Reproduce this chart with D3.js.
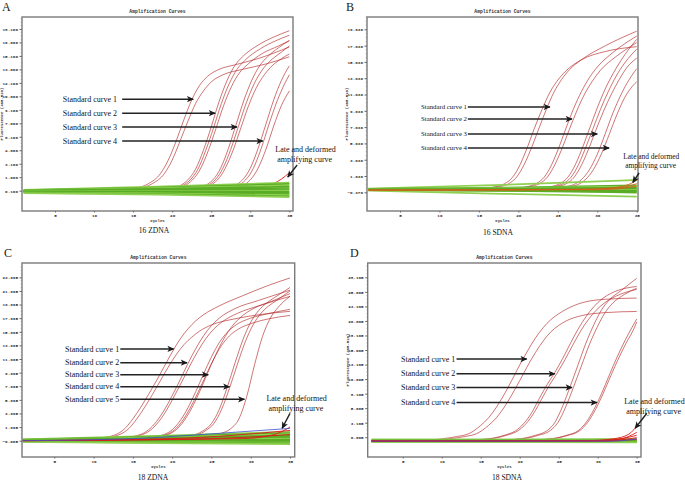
<!DOCTYPE html>
<html><head><meta charset="utf-8">
<script src="https://cdn.jsdelivr.net/npm/d3@7"></script>
<style>body{margin:0;background:#fff}svg{display:block}</style>
</head><body><svg id="c" width="685" height="482"></svg>
<script>
// ---------------- DATA ----------------
const xTicks = [5,10,15,20,25,30,35];
const yTicksA = [0.1,1.6,3.1,4.6,6.1,7.6,9.1,10.6,12.1,13.6,15.1,16.6,18.1];
const yTicksB = [-0.37,1.63,3.63,5.63,7.63,9.63,11.63,13.63,15.63,17.63,19.63];
const yTicksC = [-0.005,1.995,3.995,5.995,7.995,9.995,11.995,13.995,15.995,17.995,19.995,21.995,23.995];
const yTicksD = [0.665,3.165,5.665,8.165,10.665,13.165,15.665,18.165,20.665,23.165,25.665,28.165];
const greenCycles = [1,18,35];

const curvesA = [
 [[1,0.1],[12,0.15],[15,0.35],[17,0.9],[18.5,2.0],[19.5,3.5],[20.5,5.6],[21.5,8.0],[22.5,10.2],[23.5,11.8],[24.5,12.8],[26,13.6],[28,14.1],[31,14.8],[35,16.1]],
 [[1,0.1],[12,0.15],[15.5,0.35],[17.5,0.9],[19,2.0],[20,3.5],[21,5.6],[22,7.8],[23,9.8],[24,11.2],[25,12.2],[26.5,13.0],[29,13.6],[32,14.2],[35,15.0]],
 [[1,0.1],[17,0.2],[20,0.4],[22,1.3],[23,2.5],[24,4.6],[25,7.2],[26,10.0],[27,12.3],[28,14.0],[29,15.0],[31,16.3],[33,17.2],[35,17.9]],
 [[1,0.1],[17,0.2],[20.3,0.4],[22.3,1.3],[23.3,2.5],[24.3,4.6],[25.3,7.1],[26.3,9.8],[27.3,12.0],[28.3,13.6],[29.3,14.6],[31.3,15.9],[33.3,16.8],[35,17.4]],
 [[1,0.1],[17,0.2],[20.6,0.4],[22.6,1.3],[23.6,2.5],[24.6,4.5],[25.6,7.0],[26.6,9.6],[27.6,11.7],[28.6,13.2],[29.6,14.1],[31.6,15.4],[33.6,16.2],[35,16.8]],
 [[1,0.1],[20,0.2],[23.2,0.4],[25.2,1.3],[26.2,2.6],[27.2,4.8],[28.2,7.5],[29.2,10.2],[30.2,12.4],[31.2,14.0],[32.2,15.0],[33.6,16.0],[35,16.8]],
 [[1,0.1],[20,0.2],[23.5,0.4],[25.5,1.3],[26.5,2.6],[27.5,4.7],[28.5,7.3],[29.5,9.9],[30.5,12.0],[31.5,13.5],[32.5,14.5],[33.8,15.4],[35,16.2]],
 [[1,0.1],[20,0.2],[23.8,0.4],[25.8,1.3],[26.8,2.6],[27.8,4.6],[28.8,7.1],[29.8,9.6],[30.8,11.6],[31.8,13.0],[32.8,14.0],[34,14.8],[35,15.3]],
 [[1,0.1],[24,0.2],[27,0.4],[29,1.3],[30,2.6],[31,4.8],[32,7.5],[33,10.2],[34,12.4],[35,14.0]],
 [[1,0.1],[24,0.2],[27.4,0.4],[29.4,1.3],[30.4,2.6],[31.4,4.8],[32.4,7.5],[33.4,10.0],[34.4,12.0],[35,13.0]],
 [[1,0.1],[24,0.2],[28,0.4],[30,1.3],[31,2.6],[32,4.7],[33,7.3],[34,9.6],[35,11.2]]
];
const lateA = [
 [[1,0.1],[28,0.2],[31,0.4],[33,0.9],[34,1.4],[35,2.1]]
];
const greenA = [
 [0.20,0.55,1.00],[0.17,0.45,0.85],[0.14,0.38,0.70],[0.11,0.30,0.55],[0.08,0.22,0.40],
 [0.05,0.15,0.25],[0.02,0.08,0.10],[0.00,0.02,-0.02],[-0.03,-0.05,-0.15],[-0.06,-0.12,-0.28],
 [-0.10,-0.20,-0.40],[-0.14,-0.27,-0.52],[-0.18,-0.33,-0.62]
];

const curvesB = [
 [[1,-0.1],[14,0.0],[17,0.3],[19,1.2],[20,2.6],[21,4.8],[22,7.4],[23,9.8],[24,11.9],[25,13.4],[26,14.5],[28,15.9],[31,16.9],[35,17.5]],
 [[1,-0.1],[14,0.0],[17.5,0.3],[19.5,1.2],[20.5,2.6],[21.5,4.7],[22.5,7.2],[23.5,9.7],[24.5,11.9],[25.5,13.5],[26.5,14.7],[28,15.9],[31,17.6],[35,19.4]],
 [[1,-0.1],[18,0.0],[21,0.3],[23,1.2],[24,2.6],[25,4.8],[26,7.4],[27,9.9],[28,12.0],[29,13.7],[30,15.0],[32,16.8],[35,18.8]],
 [[1,-0.1],[18,0.0],[21.4,0.3],[23.4,1.2],[24.4,2.6],[25.4,4.7],[26.4,7.2],[27.4,9.6],[28.4,11.7],[29.4,13.3],[30.4,14.6],[32.4,16.3],[35,18.0]],
 [[1,-0.1],[21,0.0],[24,0.3],[26,1.2],[27,2.6],[28,4.8],[29,7.4],[30,10.0],[31,12.3],[32,14.2],[33,15.8],[34,17.2],[35,18.4]],
 [[1,-0.1],[21,0.0],[24.4,0.3],[26.4,1.2],[27.4,2.6],[28.4,4.8],[29.4,7.3],[30.4,9.8],[31.4,12.0],[32.4,13.9],[33.4,15.4],[34.4,16.6],[35,17.2]],
 [[1,-0.1],[21,0.0],[24.8,0.3],[26.8,1.2],[27.8,2.6],[28.8,4.7],[29.8,7.2],[30.8,9.6],[31.8,11.7],[32.8,13.5],[33.8,15.0],[35,16.1]],
 [[1,-0.1],[23,0.0],[26,0.3],[28,1.2],[29,2.4],[30,4.3],[31,6.8],[32,9.4],[33,11.6],[34,13.4],[35,14.8]],
 [[1,-0.1],[23,0.0],[26.5,0.3],[28.5,1.2],[29.5,2.4],[30.5,4.3],[31.5,6.7],[32.5,9.2],[33.5,11.3],[34.5,12.7],[35,13.2]]
];
const lateB = [
 [[1,-0.1],[28,0.0],[32,0.2],[34,0.6],[35,1.1]],
 [[1,-0.1],[29,0.0],[33,0.2],[35,0.7]],
 [[1,-0.1],[30,-0.05],[33,0.1],[35,0.4]]
];
const greenB = [
 [0.10,0.55,1.15],[0.06,0.20,0.50],[0.04,0.13,0.35],[0.02,0.07,0.22],[0.00,0.02,0.10],
 [-0.02,-0.03,0.00],[-0.04,-0.07,-0.10],[-0.06,-0.11,-0.20],[-0.08,-0.15,-0.30],[-0.10,-0.19,-0.40],
 [-0.15,-0.55,-0.90]
];

const curvesC = [
 [[1,0.1],[9,0.2],[12,0.6],[14,1.8],[15,3.2],[16,4.9],[17,6.8],[18,8.8],[19,10.9],[20,13.0],[21,14.9],[22,16.4],[23,17.6],[24,18.5],[26,19.8],[29,21.3],[32,22.7],[35,23.9]],
 [[1,0.1],[10,0.2],[12.5,0.6],[14.5,1.8],[15.5,3.2],[16.5,4.9],[17.5,6.8],[18.5,8.8],[19.5,10.8],[20.5,12.6],[21.5,14.1],[22.5,15.2],[23.5,16.1],[25,17.0],[28,17.9],[31,18.5],[35,19.0]],
 [[1,0.1],[12,0.2],[15,0.6],[17,1.6],[18,2.8],[19,4.5],[20,6.6],[21,8.9],[22,11.3],[23,13.5],[24,15.4],[25,16.9],[26,18.0],[28,19.4],[31,20.6],[35,22.1]],
 [[1,0.1],[12,0.2],[15.3,0.6],[17.3,1.6],[18.3,2.8],[19.3,4.5],[20.3,6.6],[21.3,8.8],[22.3,11.1],[23.3,13.2],[24.3,15.0],[25.3,16.4],[26.3,17.4],[28.3,18.7],[31,19.8],[35,21.2]],
 [[1,0.1],[15,0.2],[18,0.6],[20,1.6],[21,2.9],[22,4.8],[23,7.2],[24,9.8],[25,12.3],[26,14.4],[27,15.9],[28,16.9],[30,18.0],[32,18.6],[35,19.3]],
 [[1,0.1],[15,0.2],[18.3,0.6],[20.3,1.6],[21.3,2.9],[22.3,4.8],[23.3,7.1],[24.3,9.6],[25.3,12.0],[26.3,14.0],[27.3,15.4],[28.3,16.3],[30.3,17.3],[32.3,17.9],[35,18.4]],
 [[1,0.1],[15.5,0.2],[18.5,0.6],[20.5,1.6],[21.5,2.9],[22.5,4.8],[23.5,7.2],[24.5,9.9],[25.5,12.5],[26.5,14.8],[27.5,16.6],[28.5,17.9],[30.5,19.5],[32.5,20.4],[35,21.6]],
 [[1,0.1],[19,0.2],[22,0.6],[24,1.5],[25,2.5],[26,4.6],[27,7.8],[28,11.4],[29,14.8],[30,17.4],[31,19.1],[32,20.2],[33,21.0],[35,22.5]],
 [[1,0.1],[19,0.2],[22.3,0.6],[24.3,1.5],[25.3,2.5],[26.3,4.6],[27.3,7.7],[28.3,11.2],[29.3,14.5],[30.3,17.0],[31.3,18.7],[32.3,19.8],[33.3,20.6],[35,22.0]],
 [[1,0.1],[20,0.2],[24,0.5],[26,1.0],[27.5,1.8],[28.5,3.2],[29.5,6.5],[30.5,11.2],[31.5,15.3],[32.5,18.0],[33.5,19.6],[35,21.2]]
];
const lateC = [
 [[1,0.0],[20,0.3],[35,1.5]],
 [[1,0.0],[25,0.3],[35,0.9]],
 [[1,0.0],[29,0.3],[33,0.9],[35,2.0]]
];
const blueC = [
 [[1,0.0],[15,0.3],[25,1.0],[35,1.8]]
];
const greenC = [
 [0.20,0.70,1.30],[0.17,0.58,1.12],[0.14,0.47,0.95],[0.11,0.37,0.78],[0.08,0.27,0.62],
 [0.05,0.18,0.46],[0.02,0.09,0.30],[-0.01,0.00,0.15],[-0.04,-0.08,0.00],[-0.08,-0.16,-0.14],
 [-0.12,-0.23,-0.28],[-0.16,-0.30,-0.40],[-0.20,-0.35,-0.50]
];

const curvesD = [
 [[1,0.1],[8,0.15],[10,0.4],[12,0.8],[13.5,1.3],[15,2.7],[16,4.0],[17,5.8],[18,8.0],[19,10.5],[20,13.1],[21,15.5],[22,17.7],[23,19.5],[24,20.9],[25,21.9],[26,22.7],[28,23.8],[31,24.4],[35,24.6]],
 [[1,0.1],[9,0.15],[11,0.4],[13,0.8],[14.5,1.3],[16,2.7],[17,4.0],[18,5.8],[19,8.0],[20,10.4],[21,12.9],[22,15.2],[23,17.2],[24,18.8],[25,19.9],[26,20.7],[28,21.6],[31,22.1],[35,22.3]],
 [[1,0.1],[13,0.15],[16,0.4],[18,1.0],[19.5,1.8],[20.5,3.0],[21.5,4.8],[22.5,7.3],[23.5,9.7],[24.5,11.8],[25.5,14.2],[26.5,16.8],[27.5,19.3],[28.5,21.4],[29.5,23.1],[30.5,24.4],[32,25.6],[35,26.6]],
 [[1,0.1],[13,0.15],[16.3,0.4],[18.3,1.0],[19.8,1.8],[20.8,3.0],[21.8,4.8],[22.8,7.2],[23.8,9.6],[24.8,11.7],[25.8,14.0],[26.8,16.5],[27.8,18.9],[28.8,20.9],[29.8,22.5],[30.8,23.7],[32.3,24.9],[35,26.1]],
 [[1,0.1],[17,0.15],[20,0.4],[22,1.0],[23.5,1.8],[24.5,3.2],[25.5,6.0],[26.5,9.5],[27.5,13.2],[28.5,16.9],[29.5,20.0],[30.5,22.6],[31.5,24.3],[33,25.9],[35,28.0]],
 [[1,0.1],[17,0.15],[20.4,0.4],[22.4,1.0],[23.9,1.8],[24.9,3.2],[25.9,5.9],[26.9,9.3],[27.9,12.9],[28.9,16.5],[29.9,19.5],[30.9,22.0],[31.9,23.7],[33.4,25.2],[35,26.3]],
 [[1,0.1],[21,0.15],[24,0.4],[26,1.0],[27.5,1.8],[28.5,3.2],[29.5,5.4],[30.5,8.2],[31.5,11.4],[32.5,14.5],[33.5,17.3],[34.5,19.8],[35,21.0]],
 [[1,0.1],[21,0.15],[24.2,0.4],[26.2,1.0],[27.7,1.8],[28.7,3.2],[29.7,5.4],[30.7,8.2],[31.7,11.3],[32.7,14.3],[33.7,17.0],[34.7,19.5],[35,20.5]]
];
const lateD = [
 [[1,0.0],[29,0.1],[32,0.4],[34,1.2],[35,2.6]],
 [[1,0.0],[30,0.1],[33,0.4],[35,1.5]],
 [[1,0.0],[31,0.1],[35,1.0]],
 [[1,0.0],[31,0.05],[35,0.6]],
 [[1,0.0],[30,0.0],[35,0.3]]
];
const blueD = [
 [[1,0.0],[32,0.0],[35,0.4]]
];
const greenD = [
 [0.30,0.30,0.35],[0.22,0.22,0.25],[0.14,0.14,0.15],[0.06,0.06,0.05],
 [-0.02,-0.02,-0.05],[-0.10,-0.10,-0.12],[-0.18,-0.18,-0.20]
];

const stdLabelsA = ["Standard curve 1","Standard curve 2","Standard curve 3","Standard curve 4"];
const stdLabelsC = ["Standard curve 1","Standard curve 2","Standard curve 3","Standard curve 4","Standard curve 5"];
const lateLabel = ["Late and deformed","amplifying curve"];

// ---------------- LAYOUT ----------------
const panels = [
 {letter:"A", sub:"16 ZDNA", frame:[22,293,17,211], xDom:[0.775,35.47], yDom:[-2.16,19.43],
  yTicks:yTicksA, curves:curvesA, late:lateA, lateUnder:true, blue:[], green:greenA, yTitle:true,
  letterPos:[2,11], subPos:[154,233], fs:8,
  std:{labels:stdLabelsA, textX:6.0, arrowX:13.6, rows:[10.29,8.73,7.18,5.62], tips:[22.7,25.5,28.3,31.6]},
  lateAnn:{x:33.2, rows:[4.73,3.62], fs:8, from:[36.0,2.96], to:[34.8,1.62]}},
 {letter:"B", sub:"16 SDNA", frame:[367,638,17,211], xDom:[0.82,35.16], yDom:[-2.66,21.14],
  yTicks:yTicksB, curves:curvesB, late:lateB, lateUnder:false, blue:[], green:greenB, yTitle:true,
  letterPos:[346,11], subPos:[498,235], fs:6.8,
  std:{labels:stdLabelsA, textX:7.66, arrowX:13.6, rows:[10.10,8.62,6.78,5.07], tips:[24.0,26.8,30.0,31.5]},
  lateAnn:{x:33.3, rows:[3.96,2.9], fs:7.4, from:[35.3,2.0], to:[34.5,0.86]}},
 {letter:"C", sub:"18 ZDNA", frame:[22,294.7,263,457], xDom:[0.89,35.6], yDom:[-2.40,26.10],
  yTicks:yTicksC, curves:curvesC, late:lateC, lateUnder:false, blue:blueC, green:greenC, yTitle:false,
  letterPos:[4,257], subPos:[153,480], fs:8,
  std:{labels:stdLabelsC, textX:6.36, arrowX:13.4, rows:[13.48,11.46,9.70,7.93,6.08], tips:[20.2,21.9,24.6,27.3,29.2]},
  lateAnn:{x:32.0, rows:[6.27,4.8], fs:8, from:[35.0,4.0], to:[34.0,1.82]}},
 {letter:"D", sub:"18 SDNA", frame:[367.7,641,263,457], xDom:[0.51,35.55], yDom:[-2.73,30.63],
  yTicks:yTicksD, curves:curvesD, late:lateD, lateUnder:false, blue:blueD, green:greenD, yTitle:true,
  letterPos:[350,257], subPos:[507,480], fs:8,
  std:{labels:stdLabelsA, textX:4.78, arrowX:11.9, rows:[14.11,11.58,9.22,6.63], tips:[20.9,24.5,26.7,29.9]},
  lateAnn:{x:33.4, rows:[6.8,5.08], fs:8, from:[36.3,4.8], to:[34.8,2.22]}}
];

// ---------------- DRAW ----------------
const svg = d3.select("#c");
const defs = svg.append("defs");
defs.append("marker").attr("id","ah").attr("viewBox","0 0 10 10").attr("refX",9).attr("refY",5)
  .attr("markerWidth",9).attr("markerHeight",7).attr("markerUnits","userSpaceOnUse").attr("orient","auto")
  .append("path").attr("d","M0,0.5 L10,5 L0,9.5 L2.5,5 Z").attr("fill","#1a1a1a");

const serif = "'Liberation Serif','Times New Roman',serif";
const mono = "'Liberation Mono','DejaVu Sans Mono',monospace";

panels.forEach((p,pi) => {
  const [x0,x1,y0,y1] = p.frame;
  const x = d3.scaleLinear().domain(p.xDom).range([x0,x1]);
  const y = d3.scaleLinear().domain(p.yDom).range([y1,y0]);
  const g = svg.append("g");
  const line = d3.line().x(d=>x(d[0])).y(d=>y(d[1])).curve(d3.curveMonotoneX);

  defs.append("clipPath").attr("id","clip"+pi).append("rect")
    .attr("x",x0).attr("y",y0).attr("width",x1-x0).attr("height",y1-y0);
  const plot = g.append("g").attr("clip-path",`url(#clip${pi})`);

  const drawLate = () => {
    plot.append("g").selectAll("path").data(p.late).join("path")
      .attr("d", line).attr("fill","none")
      .attr("stroke", pi===1 ? "#d2601a" : "#e01818").attr("stroke-width",0.9);
  };

  // red amplification curves
  plot.append("g").selectAll("path").data(p.curves).join("path")
    .attr("d", line).attr("fill","none")
    .attr("stroke","#b32626").attr("stroke-width",0.8).attr("stroke-opacity",0.8);
  if (p.lateUnder) drawLate();

  // green (negative) lines
  plot.append("g").selectAll("path").data(p.green).join("path")
    .attr("d", d => line(greenCycles.map((c,i)=>[c,d[i]])))
    .attr("fill","none")
    .attr("stroke",(d,i)=> (i===0 || i===p.green.length-1 || i%4===2) ? "#8fd052" : "#5aad25")
    .attr("stroke-width",1.7);

  if (!p.lateUnder) drawLate();
  plot.append("g").selectAll("path").data(p.blue).join("path")
    .attr("d", line).attr("fill","none")
    .attr("stroke","#3b4fd0").attr("stroke-width",0.8);

  // frame
  g.append("rect").attr("x",x0).attr("y",y0).attr("width",x1-x0).attr("height",y1-y0)
    .attr("fill","none").attr("stroke","#7a7a7a").attr("stroke-width",1.4);

  // y axis
  const ya = g.append("g").attr("transform",`translate(${x0},0)`)
    .call(d3.axisLeft(y).tickValues(p.yTicks).tickFormat(d3.format(".3f")).tickSize(2.5).tickPadding(1.5));
  ya.select(".domain").remove();
  ya.selectAll("line").attr("stroke","#666");
  ya.selectAll("text").attr("font-family",mono).attr("font-size",4.3).attr("font-weight","bold").attr("fill","#333");
  const step = p.yTicks[1]-p.yTicks[0];
  const minor = [];
  p.yTicks.forEach(t => { for (let k=1;k<4;k++){ const v=t+k*step/4; if (v<p.yDom[1]) minor.push(v);} });
  g.append("g").selectAll("line").data(minor).join("line")
    .attr("x1",x0-1.3).attr("x2",x0).attr("y1",d=>y(d)).attr("y2",d=>y(d)).attr("stroke","#888").attr("stroke-width",0.6);

  // x axis
  const xa = g.append("g").attr("transform",`translate(0,${y1})`)
    .call(d3.axisBottom(x).tickValues(xTicks).tickSize(1.5).tickPadding(1));
  xa.select(".domain").remove();
  xa.selectAll("line").attr("stroke","#666");
  xa.selectAll("text").attr("font-family",mono).attr("font-size",4.3).attr("font-weight","bold").attr("fill","#333");

  // axis titles
  g.append("text").attr("x",(x0+x1)/2).attr("y",y1+10.5).attr("text-anchor","middle")
    .attr("font-family",mono).attr("font-size",4).attr("font-weight","bold").attr("fill","#333").text("Cycles");
  if (p.yTitle) {
    g.append("text").attr("transform",`translate(${x0-19},${(y0+y1)/2}) rotate(-90)`)
      .attr("text-anchor","middle").attr("font-family",mono).attr("font-size",4).attr("font-weight","bold")
      .attr("fill","#333").text("Fluorescence (465-510)");
  }
  g.append("text").attr("x",(x0+x1)/2).attr("y",y0-4).attr("text-anchor","middle")
    .attr("font-family",mono).attr("font-size",4.7).attr("font-weight","bold").attr("fill","#333")
    .text("Amplification Curves");

  // letter & subtitle
  g.append("text").attr("x",p.letterPos[0]).attr("y",p.letterPos[1]).attr("font-family",serif)
    .attr("font-size",12).attr("fill","#222").text(p.letter);
  g.append("text").attr("x",p.subPos[0]).attr("y",p.subPos[1]).attr("text-anchor","middle")
    .attr("font-family",serif).attr("font-size",7.6).attr("fill","#111").text(p.sub);

  // standard curve annotations
  const s = p.std;
  s.labels.forEach((lab,i) => {
    g.append("text").attr("x",x(s.textX)).attr("y",y(s.rows[i])).attr("dy","0.33em")
      .attr("font-family",serif).attr("font-size",p.fs).attr("fill","#111").text(lab);
    g.append("line").attr("x1",x(s.arrowX)).attr("x2",x(s.tips[i]))
      .attr("y1",y(s.rows[i])).attr("y2",y(s.rows[i]))
      .attr("stroke","#222").attr("stroke-width",1.5).attr("marker-end","url(#ah)");
  });
  const L = p.lateAnn;
  lateLabel.forEach((t,i) => {
    g.append("text").attr("x",x(L.x) + (i===1?2:0)).attr("y",y(L.rows[i])).attr("dy","0.33em")
      .attr("font-family",serif).attr("font-size",L.fs).attr("fill","#111").text(t);
  });
  g.append("line").attr("x1",x(L.from[0])).attr("y1",y(L.from[1]))
    .attr("x2",x(L.to[0])).attr("y2",y(L.to[1]))
    .attr("stroke","#222").attr("stroke-width",1.4).attr("marker-end","url(#ah)");
});
</script></body></html>
